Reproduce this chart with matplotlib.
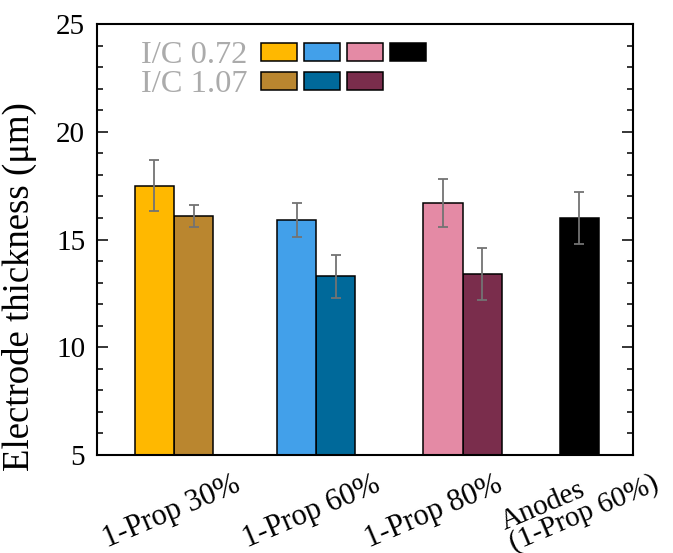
"""Electrode thickness bar chart, I/C 0.72 vs I/C 1.07."""
import matplotlib as mpl
mpl.use("Agg")
import matplotlib.pyplot as plt
from matplotlib.patches import Rectangle
from matplotlib.ticker import MultipleLocator

# --- data ---------------------------------------------------------------
categories = ["1-Prop 30%", "1-Prop 60%", "1-Prop 80%", "Anodes\n(1-Prop 60%)"]
thick_072 = [17.5, 15.9, 16.7, 16.0]
err_072 = [1.2, 0.8, 1.1, 1.2]
thick_107 = [16.1, 13.3, 13.4]
err_107 = [0.5, 1.0, 1.2]
legend_labels = ["I/C 0.72", "I/C 1.07"]

# --- style --------------------------------------------------------------
COLORS_072 = ["#FFB800", "#42A0EA", "#E48AA5", "#000000"]
COLORS_107 = ["#BA862F", "#00699A", "#7A2D4C"]
ERR_COLOR = "#737373"
LEGEND_TEXT_COLOR = "#ababab"
GROUP_X = [0.0, 0.985, 2.0, 2.81]       # group centres (irregular in the original)
LABEL_X = [-0.02, 0.95, 1.80, 2.81]     # centres of the rotated category labels
LABEL_TOP = [-0.036, -0.036, -0.036, 0.014]  # label tops, axes fraction
LABEL_SIZE = [22, 22, 22, 21]
BAR_W = 0.272
FONT = ["Liberation Serif", "DejaVu Serif"]
XLABEL_ROT = 23

plt.rcParams.update({
    "font.family": FONT,
    "font.size": 21,
    "axes.linewidth": 1.5,
})

fig = plt.figure(figsize=(6.73, 5.53), dpi=100)
ax = fig.add_axes([97 / 673, 98 / 553, 536 / 673, 431 / 553])

bar_kw = dict(width=BAR_W, edgecolor="black", linewidth=1.1, zorder=2)
err_kw = dict(ecolor=ERR_COLOR, elinewidth=1.3, capsize=3.5, capthick=1.3, zorder=3)

n_pairs = len(thick_107)
for i in range(len(categories)):
    if i < n_pairs:
        x1 = GROUP_X[i] - BAR_W / 2
        x2 = GROUP_X[i] + BAR_W / 2
        ax.bar(x2, thick_107[i], yerr=err_107[i], color=COLORS_107[i],
               error_kw=err_kw, **bar_kw)
    else:
        x1 = GROUP_X[i]
    ax.bar(x1, thick_072[i], yerr=err_072[i], color=COLORS_072[i],
           error_kw=err_kw, **bar_kw)

ax.set_ylim(5, 25)
ax.set_xlim(-0.534, 3.181)
ax.yaxis.set_major_locator(MultipleLocator(5))
ax.yaxis.set_minor_locator(MultipleLocator(1))
ax.tick_params(axis="y", which="both", direction="in", left=True, right=True,
               width=1.1, pad=8.5)
ax.tick_params(axis="y", which="major", length=8)
ax.tick_params(axis="y", which="minor", length=4.3)
ax.set_xticks([])

# category labels drawn as texts so the two-line one can sit a bit higher
xtrans = ax.get_xaxis_transform()
for x, y, size, label in zip(LABEL_X, LABEL_TOP, LABEL_SIZE, categories):
    ax.text(x, y, label, transform=xtrans, rotation=XLABEL_ROT, ha="center",
            va="top", multialignment="left", linespacing=0.85, fontsize=size,
            clip_on=False)

ax.set_ylabel("Electrode thickness (\u03bcm)", fontsize=26.5)
ax.yaxis.set_label_coords(-0.112, 0.39)

# hand-built legend: grey text and one row of swatches per I/C ratio
sw_x0, sw_step, sw_w, sw_h = 0.306, 0.0802, 0.0672, 0.0418
rows = [(legend_labels[0], COLORS_072, 0.935, 0.909),
        (legend_labels[1], COLORS_107, 0.868, 0.843)]
for label, colors, yc, ybase in rows:
    ax.text(0.083, ybase, label, transform=ax.transAxes, fontsize=23.4,
            color=LEGEND_TEXT_COLOR, ha="left", va="baseline")
    for j, c in enumerate(colors):
        ax.add_patch(Rectangle((sw_x0 + j * sw_step, yc - sw_h / 2), sw_w, sw_h,
                               transform=ax.transAxes, facecolor=c,
                               edgecolor="black", linewidth=1.1, clip_on=False))

fig.savefig("out.png", dpi=100)
